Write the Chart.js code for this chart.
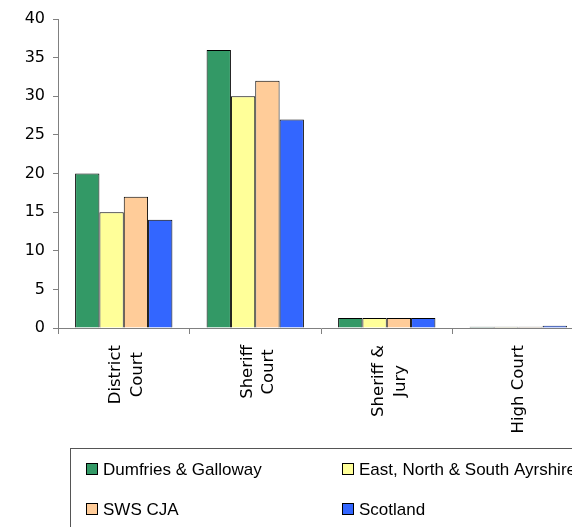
<!DOCTYPE html>
<html>
<head>
<meta charset="utf-8">
<script src="https://cdn.jsdelivr.net/npm/chart.js@4"></script>
<style>
  html, body { margin: 0; padding: 0; background: #fff; overflow: hidden; }
  #wrap { width: 600px; height: 527px; }
</style>
</head>
<body>
<div id="wrap"><canvas id="courtChart" width="600" height="527"></canvas></div>
<script>
const categories = [["District", "Court"], ["Sheriff", "Court"], ["Sheriff &", "Jury"], "High Court"];
const seriesNames = ["Dumfries & Galloway", "East, North & South Ayrshire", "SWS CJA", "Scotland"];
const dumfries = [20, 36, 1.3, 0.15];
const ayrshire = [15, 30, 1.3, 0.15];
const swsCja = [17, 32, 1.3, 0.15];
const scotland = [14, 27, 1.3, 0.3];
const yTicks = [0, 5, 10, 15, 20, 25, 30, 35, 40];

const colors = ["#339966", "#FFFF99", "#FFCC99", "#3366FF"];
const seriesValues = [dumfries, ayrshire, swsCja, scotland];

// legend box drawn by hand, two columns like the original
const boxLegend = {
  id: "boxLegend",
  afterDraw(chart) {
    const c = chart.ctx;
    c.save();
    c.strokeStyle = "#555";
    c.lineWidth = 1;
    c.strokeRect(70.5, 448.5, 600, 120);
    c.font = "17px 'Liberation Sans', Arial, sans-serif";
    c.textBaseline = "middle";
    chart.data.datasets.forEach((ds, i) => {
      const x = i % 2 === 0 ? 86 : 342;
      const y = i < 2 ? 469 : 509;
      c.fillStyle = ds.backgroundColor;
      c.fillRect(x + 0.5, y - 5.5, 11, 11);
      c.strokeStyle = "#000";
      c.strokeRect(x + 0.5, y - 5.5, 11, 11);
      c.fillStyle = "#000";
      c.fillText(ds.label, x + 17, y + 1);
    });
    c.restore();
  }
};

// center the rotated two-line labels on their category, lines centred on each other
const centerLabels = {
  id: "centerLabels",
  beforeDraw(chart) {
    const sc = chart.scales.x;
    const items = sc.getLabelItems(chart.chartArea);
    const c = chart.ctx;
    items.forEach(it => {
      if (it._done) return;
      it._done = true;
      const lines = Array.isArray(it.label) ? it.label : [it.label];
      c.save();
      c.font = it.font.string;
      const w = Math.max(...lines.map(l => c.measureText(l).width));
      c.restore();
      const lh = it.font.lineHeight;
      if (lines.length > 1) it.options.translation[0] -= (lines.length - 1) * lh / 2 - 3;
      it.options.translation[1] += w / 2;
      it.options.textAlign = "center";
    });
  }
};

new Chart(document.getElementById("courtChart"), {
  type: "bar",
  data: {
    labels: categories,
    datasets: seriesNames.map((name, i) => ({
      label: name,
      data: seriesValues[i],
      backgroundColor: colors[i],
      borderColor: "#000",
      borderWidth: 1,
      barPercentage: 1,
      categoryPercentage: 0.74
    }))
  },
  options: {
    responsive: false,
    animation: false,
    layout: { padding: { top: 19, right: 16, left: 0, bottom: 0 } },
    plugins: { legend: { display: false }, tooltip: { enabled: false } },
    scales: {
      x: {
        grid: { offset: true, drawOnChartArea: false, tickLength: 6, color: "#808080" },
        border: { color: "#808080" },
        ticks: {
          minRotation: 90, maxRotation: 90, padding: 11,
          color: "#000",
          font: { family: "'DejaVu Sans', Verdana, sans-serif", size: 16.5, lineHeight: 1.3 }
        },
        afterFit(scale) { scale.height = 199; }
      },
      y: {
        min: 0, max: 40,
        afterBuildTicks(scale) { scale.ticks = yTicks.map(v => ({ value: v })); },
        grid: { drawOnChartArea: false, tickLength: 5, color: "#808080" },
        border: { color: "#808080" },
        ticks: {
          padding: 8, color: "#000",
          font: { family: "'DejaVu Sans', Verdana, sans-serif", size: 16 }
        },
        afterFit(scale) { scale.width = 58; }
      }
    }
  },
  plugins: [boxLegend, centerLabels]
});
</script>
</body>
</html>
